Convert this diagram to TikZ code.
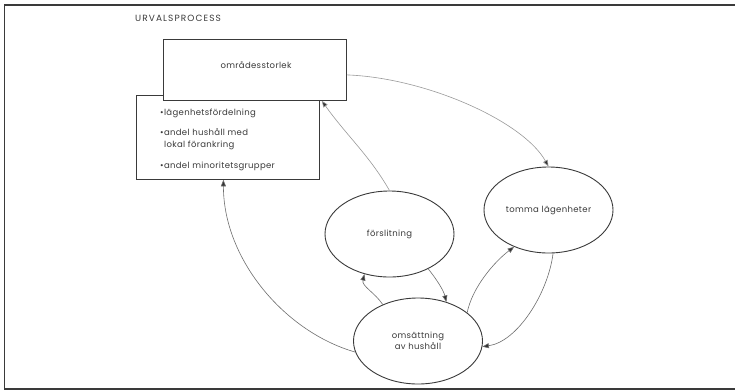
\documentclass[tikz,border=0pt]{standalone}
\usepackage{fontspec}
\setmainfont{Poppins}[LetterSpace=4]
\newfontfamily\titlefont{Poppins}[LetterSpace=12]
\usetikzlibrary{shapes.geometric,arrows.meta,calc}
\definecolor{ink}{HTML}{3A3A3A}
\definecolor{wire}{HTML}{6E6E6E}
\definecolor{faint}{HTML}{9A9A9A}
\definecolor{tip}{HTML}{333333}
\tikzset{
  frameline/.style={draw=ink, line width=1.3pt},
  box/.style={draw=ink, line width=0.8pt, inner sep=0pt, rectangle},
  oval/.style={ellipse, draw=ink, line width=0.9pt, minimum width=129pt, minimum height=86pt, inner sep=0pt, align=center, font=\fontsize{8.5}{11}\selectfont, text=ink},
  txt/.style={font=\fontsize{8.5}{11}\selectfont, text=ink, inner sep=0pt},
  arr/.style={draw=wire, line width=0.6pt, -{Triangle[length=6.5pt,width=5pt,fill=tip]}},
  arrlight/.style={arr, draw=faint}
}
\begin{document}
\begin{tikzpicture}[x=1pt,y=-1pt]
\useasboundingbox (0,0) rectangle (735,391);
\fill[white] (0,0) rectangle (735,391);
% outer frame (open on the right)
\draw[frameline] (735,5) -- (4.5,5) -- (4.5,389) -- (735,389);

\node[txt, anchor=west, font=\titlefont\fontsize{9}{11}\selectfont] (title) at (135,18) {URVALSPROCESS};

% factor list box, partly covered by the area-size box
\node[box, minimum width=183pt, minimum height=84pt, anchor=north west] (factors) at (136,95) {};
\node[txt, anchor=base west] (f1) at (160,115) {•lägenhetsfördelning};
\node[txt, anchor=base west] (f2) at (160,135) {•andel hushåll med};
\node[txt, anchor=base west] (f3) at (164,147) {lokal förankring};
\node[txt, anchor=base west] (f4) at (160,168) {•andel minoritetsgrupper};

\node[box, fill=white, minimum width=183pt, minimum height=61pt, anchor=north west] (size) at (163,39) {};
\node[txt] (sizetext) at (256,65) {områdesstorlek};

% state ellipses
\node[oval] (wear) at (389.5,234) {förslitning};
\node[oval] (empty) at (548.5,210) {tomma lägenheter};
\node[oval] (turn) at (418,341) {omsättning\\av hushåll};

% connectors
\draw[arrlight] ([yshift=-5pt]size.east) .. controls +(80,3) and +(-25,-45) .. (empty.north);
\draw[arrlight] (wear.north) .. controls +(-20,-35) and +(25,35) .. ($(size.south east)+(-25,0)$);
\draw[arr] (turn.190) .. controls +(-70,-20) and +(0,80) .. ($(factors.south)+(-4.5,0)$);
\draw[arr] (turn.134) .. controls +(-8,-12) and +(-3,12) .. (wear.238);
\draw[arr] (wear.-42) .. controls +(8,10) and +(-3,-12) .. (turn.54);
\draw[arr] (turn.30) .. controls +(5,-25) and +(-20,15) .. (empty.227);
\draw[arr] (empty.-84) .. controls +(-5,40) and +(35,-5) .. (turn.-5);
\end{tikzpicture}
\end{document}
